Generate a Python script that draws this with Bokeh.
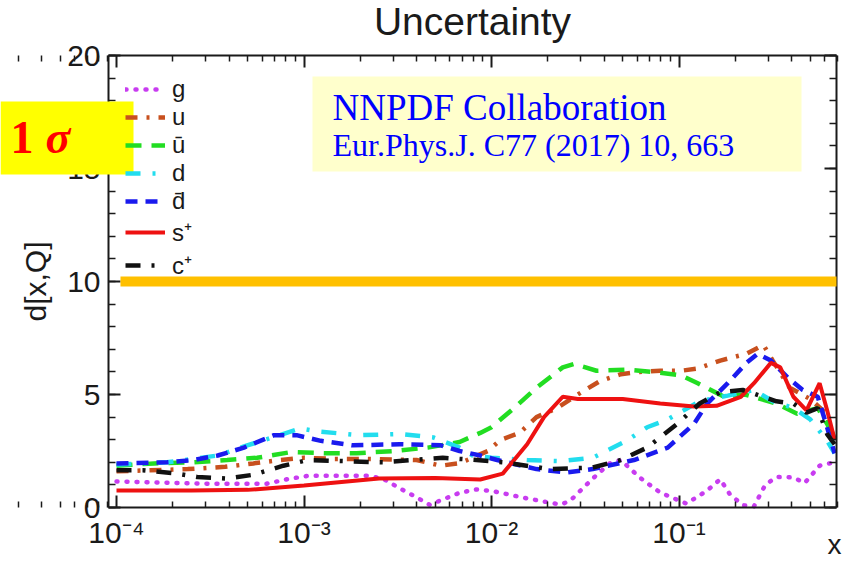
import numpy as np
from bokeh.plotting import figure
from bokeh.models import (Range1d, LogAxis, LinearAxis, FixedTicker, CustomJSTickFormatter,
                          Legend, LegendItem, BoxAnnotation, Label)
from bokeh.embed import file_html
from bokeh.resources import INLINE

# ---------------- data (log10 x positions and uncertainty values) ----------------
g_logx = [-4.0, -3.5, -3.2, -3.09, -2.98, -2.66, -2.58, -2.49, -2.4, -2.33, -2.26, -2.17, -2.08,
          -1.99, -1.81, -1.63, -1.58, -1.46, -1.37, -1.31, -1.21, -1.1, -0.96, -0.85, -0.78,
          -0.73, -0.66, -0.6, -0.54, -0.48, -0.39, -0.33, -0.25, -0.17]
g_val = [1.15, 1.05, 1.05, 1.25, 1.4, 1.4, 1.28, 0.85, 0.45, 0.12, 0.35, 0.65, 0.8,
         0.72, 0.4, 0.13, 0.3, 1.28, 1.95, 2.1, 1.33, 0.66, 0.17, 0.75, 1.25,
         0.6, 0.1, 0.05, 1.0, 1.35, 1.33, 1.08, 1.85, 2.0]

u_logx = [-4.0, -3.62, -3.42, -3.27, -3.13, -3.0, -2.84, -2.66, -2.4, -2.27, -2.18, -2.13, -2.02,
          -1.95, -1.85, -1.76, -1.65, -1.54, -1.42, -1.31, -1.21, -1.1, -0.99, -0.9, -0.78,
          -0.64, -0.55, -0.5, -0.41, -0.3, -0.22, -0.17]
u_val = [1.6, 1.7, 1.8, 1.95, 2.1, 2.2, 2.15, 2.15, 2.1, 1.85, 1.95, 2.1, 2.5,
         3.0, 3.3, 4.0, 4.4, 5.0, 5.6, 5.9, 6.0, 6.05, 6.05, 6.15, 6.5,
         6.8, 7.2, 6.5, 5.3, 4.8, 4.2, 3.0]

ubar_logx = [-4.0, -3.8, -3.59, -3.41, -3.25, -3.07, -2.88, -2.72, -2.52, -2.34, -2.17, -2.06,
             -2.0, -1.88, -1.76, -1.62, -1.56, -1.44, -1.28, -1.14, -0.99, -0.9, -0.76, -0.65,
             -0.48, -0.37, -0.26, -0.21, -0.17]
ubar_val = [1.85, 1.95, 2.0, 2.1, 2.2, 2.45, 2.4, 2.4, 2.5, 2.65, 2.9, 3.3,
            3.55, 4.4, 5.3, 6.2, 6.35, 6.05, 6.1, 6.0, 5.85, 5.5, 4.9, 5.0,
            4.6, 4.15, 4.4, 3.7, 3.0]

d_logx = [-4.0, -3.73, -3.46, -3.32, -3.13, -3.02, -2.91, -2.7, -2.49, -2.31, -2.17, -2.1,
          -2.0, -1.81, -1.63, -1.46, -1.28, -1.17, -1.06, -0.89, -0.74, -0.6, -0.5, -0.39,
          -0.3, -0.21, -0.17]
d_val = [1.9, 2.0, 2.3, 2.7, 3.2, 3.5, 3.35, 3.2, 3.25, 3.1, 2.65, 2.3,
         2.2, 2.1, 2.05, 2.2, 2.95, 3.55, 3.9, 4.7, 4.95, 5.2, 4.7, 4.4,
         3.9, 2.95, 2.4]

dbar_logx = [-4.0, -3.73, -3.59, -3.46, -3.32, -3.16, -3.04, -2.91, -2.74, -2.49, -2.27, -2.17,
             -2.06, -1.97, -1.76, -1.6, -1.46, -1.24, -1.06, -0.92, -0.85, -0.74, -0.64, -0.58,
             -0.51, -0.42, -0.34, -0.26, -0.21, -0.17]
dbar_val = [1.95, 2.0, 2.1, 2.3, 2.65, 3.2, 3.2, 2.95, 2.75, 2.8, 2.75, 2.5,
            2.3, 2.1, 1.7, 1.55, 1.7, 2.1, 2.65, 3.7, 4.6, 5.5, 6.4, 6.8,
            6.5, 5.75, 5.2, 4.9, 3.55, 2.4]

s_logx = [-4.0, -3.6, -3.3, -3.0, -2.6, -2.3, -2.06, -1.94, -1.81, -1.72, -1.62, -1.54,
          -1.3, -1.1, -0.92, -0.8, -0.67, -0.6, -0.51, -0.46, -0.39, -0.32, -0.25, -0.21, -0.17]
s_val = [0.75, 0.75, 0.78, 0.97, 1.28, 1.3, 1.24, 1.5, 2.8, 4.0, 4.9, 4.8,
         4.8, 4.6, 4.47, 4.5, 4.9, 5.5, 6.4, 6.2, 4.9, 4.3, 5.5, 4.3, 3.0]

c_logx = [-4.0, -3.86, -3.68, -3.57, -3.41, -3.27, -3.11, -2.98, -2.58, -2.26, -2.08, -1.94,
          -1.69, -1.46, -1.31, -1.17, -1.01, -0.89, -0.78, -0.66, -0.57, -0.48, -0.39, -0.32,
          -0.26, -0.21, -0.17]
c_val = [1.65, 1.65, 1.5, 1.35, 1.28, 1.45, 1.85, 2.1, 2.0, 2.2, 2.1, 2.0,
         1.7, 1.77, 2.1, 2.65, 3.7, 4.6, 5.1, 5.2, 4.95, 4.7, 4.6, 4.2,
         4.4, 3.25, 2.8]

labels = ["g", "u", "\u016b", "d", "d\u0304", "s\u207a", "c\u207a"]
colors = ["#c83cf0", "#c8501e", "#22dd22", "#22ddee", "#1a1aee", "#ee1111", "#111111"]
dashes = ["1 9", "12 9 3 9", "16 10", "15 12 3 12", "12 8", "solid", "15 11 3 11"]
series = [(g_logx, g_val), (u_logx, u_val), (ubar_logx, ubar_val), (d_logx, d_val),
          (dbar_logx, dbar_val), (s_logx, s_val), (c_logx, c_val)]

y_major = [0, 5, 10, 15, 20]
x_major_exp = [-4, -3, -2, -1]

# ---------------- geometry helpers (canvas px -> data, used for annotation placement) ----------------
X0_PX, DEC_PX = 116.0, 187.5     # x = 1e-4 sits at 116 px, one decade = 187.5 px
Y0_PX, UNIT_PX = 507.0, 22.6     # y = 0 sits at 507 px, one unit = 22.6 px
AX_L, AX_R = 108, 836            # drawn box of the axes


def sx(px):
    return 10 ** (-4 + (px - X0_PX) / DEC_PX)


def sy(py):
    return (Y0_PX - py) / UNIT_PX


SANS = "Liberation Sans"
SERIF = "Liberation Serif"
TXT = "#1a1a1a"

# The frame spans the whole canvas so that the tags in the margins are not clipped;
# the four axes are pinned at the edges of the drawn box with fixed_location.
p = figure(width=847, height=561, x_axis_type="log",
           x_range=Range1d(sx(0), sx(847)), y_range=Range1d(sy(561), sy(0)),
           output_backend="svg", toolbar_location=None,
           min_border_left=0, min_border_right=0, min_border_top=0, min_border_bottom=0)
p.outline_line_color = None
p.xgrid.visible = False
p.ygrid.visible = False
p.background_fill_color = "white"
p.border_fill_color = "white"

x_ticks = [10.0 ** e for e in x_major_exp]
x_minor = [m * 10.0 ** e for e in range(-5, 0) for m in range(2, 10)]
x_bounds = (sx(AX_L), sx(AX_R))
y_bounds = (0, 20)
fmt = CustomJSTickFormatter(code="""
const e = Math.round(Math.log10(tick));
const sup = {'-':'\\u207b','0':'\\u2070','1':'\\u00b9','2':'\\u00b2','3':'\\u00b3','4':'\\u2074',
             '5':'\\u2075','6':'\\u2076','7':'\\u2077','8':'\\u2078','9':'\\u2079'};
return '10' + String(e).split('').map(c => sup[c]).join('');
""")


def style_axis(ax, labels_on, major_len, minor_len, inward=True):
    ax.axis_line_width = 2
    ax.axis_line_color = TXT
    ax.major_tick_line_width = 2
    ax.minor_tick_line_width = 1.5
    ax.major_tick_line_color = TXT
    ax.minor_tick_line_color = TXT
    if inward:
        ax.major_tick_in, ax.major_tick_out = major_len, 0
        ax.minor_tick_in, ax.minor_tick_out = minor_len, 0
    else:
        ax.major_tick_in, ax.major_tick_out = 0, major_len
        ax.minor_tick_in, ax.minor_tick_out = 0, minor_len
    if labels_on:
        ax.major_label_text_font = SANS
        ax.major_label_text_font_size = "30px"
        ax.major_label_text_color = TXT
    else:
        ax.major_label_text_font_size = "1px"
        ax.major_label_text_alpha = 0
        ax.major_label_standoff = 0


xa = p.xaxis[0]
xa.ticker = FixedTicker(ticks=x_ticks, minor_ticks=x_minor)
xa.formatter = fmt
xa.bounds = x_bounds
xa.fixed_location = 0
style_axis(xa, True, 12, 6)
xa.major_label_standoff = 8

ya = p.yaxis[0]
ya.ticker = FixedTicker(ticks=y_major, minor_ticks=list(range(0, 21)))
ya.bounds = y_bounds
ya.fixed_location = sx(AX_L)
style_axis(ya, True, 12, 7)
ya.major_label_standoff = 8
ya.axis_label = "d[x,Q]"
ya.axis_label_text_font = SANS
ya.axis_label_text_font_size = "30px"
ya.axis_label_text_font_style = "normal"
ya.axis_label_text_color = TXT
ya.axis_label_standoff = 12

# top edge of the box: a second bottom-type axis pinned at y=20, ticks pointing down
top = LogAxis(ticker=FixedTicker(ticks=x_ticks, minor_ticks=x_minor), bounds=x_bounds,
              fixed_location=20)
style_axis(top, False, 12, 6, inward=False)
p.add_layout(top, "below")
right = LinearAxis(ticker=FixedTicker(ticks=y_major, minor_ticks=list(range(0, 21))),
                   bounds=y_bounds, fixed_location=sx(AX_R))
style_axis(right, False, 12, 7)
p.add_layout(right, "right")

# ---------------- curves ----------------
items = []
for (lx, vals), lab, col, dash in zip(series, labels, colors, dashes):
    xs = np.power(10.0, np.array(lx))
    r = p.line(xs, vals, line_color=col, line_width=4.5 if dash != "solid" else 4,
               line_dash=dash, line_cap="round" if dash == "1 9" else "butt")
    items.append(LegendItem(label=lab, renderers=[r]))

# tuple location: (x of left edge, y of bottom edge) measured from the frame's bottom-left
leg = Legend(items=items, location=(125, 280), padding=0, margin=0, spacing=0,
             glyph_width=40, glyph_height=24, label_height=24, label_standoff=7,
             label_text_font=SANS, label_text_font_size="24px", label_text_color=TXT,
             background_fill_alpha=0, border_line_alpha=0)
p.add_layout(leg)

# ---------------- annotations ----------------
p.add_layout(Label(x=sx(472), y=sy(21), text="Uncertainty", text_font=SANS,
                   text_font_size="39px", text_color=TXT, text_align="center",
                   text_baseline="middle"))

p.add_layout(BoxAnnotation(left=sx(120), right=sx(AX_R), bottom=10 - 5 / UNIT_PX,
                           top=10 + 5 / UNIT_PX,
                           fill_color="#ffc000", fill_alpha=1, line_alpha=0))
p.add_layout(BoxAnnotation(left=sx(312), right=sx(801), bottom=sy(171), top=sy(76),
                           fill_color="#ffffcc", fill_alpha=1, line_alpha=0, level="underlay"))
p.add_layout(Label(x=sx(332), y=sy(107), text="NNPDF Collaboration", text_font=SERIF,
                   text_font_size="37px", text_color="#0000ff", text_baseline="middle"))
p.add_layout(Label(x=sx(332), y=sy(144), text="Eur.Phys.J. C77 (2017) 10, 663", text_font=SERIF,
                   text_font_size="32px", text_color="#0000ff", text_baseline="middle"))

p.add_layout(BoxAnnotation(left=sx(0), right=sx(133), bottom=sy(174), top=sy(101),
                           fill_color="#ffff00", fill_alpha=1, line_alpha=0, level="overlay"))
p.add_layout(Label(x=sx(10), y=sy(137), text="1", text_font=SERIF, text_font_size="46px",
                   text_font_style="bold", text_color="#ff0000", text_baseline="middle",
                   level="overlay"))
p.add_layout(Label(x=sx(45), y=sy(137), text="\u03c3", text_font=SERIF, text_font_size="46px",
                   text_font_style="bold italic", text_color="#ff0000", text_baseline="middle",
                   level="overlay"))

p.add_layout(Label(x=sx(841), y=sy(544), text="x", text_font=SANS, text_font_size="28px",
                   text_color=TXT, text_align="right", text_baseline="middle"))

open("out.html", "w").write(file_html(p, INLINE))
